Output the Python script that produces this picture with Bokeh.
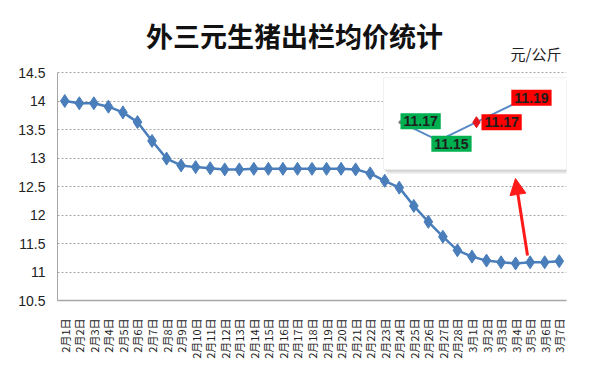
from bokeh.plotting import figure
from bokeh.models import (Range1d, FixedTicker, CustomJSTickFormatter, Label,
                          Arrow, NormalHead, ColumnDataSource)
from bokeh.embed import file_html
from bokeh.resources import INLINE

# ---------------- data ----------------
dates = ["2月1日", "2月2日", "2月3日", "2月4日", "2月5日", "2月6日", "2月7日",
         "2月8日", "2月9日", "2月10日", "2月11日", "2月12日", "2月13日", "2月14日",
         "2月15日", "2月16日", "2月17日", "2月18日", "2月19日", "2月20日", "2月21日",
         "2月22日", "2月23日", "2月24日", "2月25日", "2月26日", "2月27日", "2月28日",
         "3月1日", "3月2日", "3月3日", "3月4日", "3月5日", "3月6日", "3月7日"]
prices = [14.00, 13.96, 13.96, 13.90, 13.80, 13.63, 13.30, 12.99, 12.87, 12.84,
          12.82, 12.80, 12.80, 12.81, 12.81, 12.81, 12.81, 12.81, 12.81, 12.81,
          12.80, 12.73, 12.60, 12.48, 12.16, 11.88, 11.62, 11.38, 11.27, 11.20,
          11.17, 11.15, 11.17, 11.17, 11.19]
y_ticks = [10.5, 11, 11.5, 12, 12.5, 13, 13.5, 14, 14.5]

inset_values = [11.17, 11.15, 11.17, 11.19]
inset_colors = ["#00b050", "#00b050", "#ff0000", "#ff0000"]

title_text = "外三元生猪出栏均价统计"
unit_text = "元/公斤"

# ---------------- figure ----------------
W, H = 583, 379
FL, FR, FB = 57, 566, 300          # frame edges in pixels (frame reaches the top)
AXIS_TOP = 72                      # pixel row of the highest tick (14.5)
px_per_unit = (FB - AXIS_TOP) / (y_ticks[-1] - y_ticks[0])
y_top = y_ticks[-1] + AXIS_TOP / px_per_unit

p = figure(width=W, height=H, output_backend="svg", toolbar_location=None,
           title_location=None,
           x_range=Range1d(-0.5, len(dates) - 0.5),
           y_range=Range1d(y_ticks[0], y_top),
           min_border_left=FL, min_border_right=W - FR,
           min_border_top=0, min_border_bottom=H - FB)
p.outline_line_color = None
p.background_fill_color = "white"
p.border_fill_color = "white"

# axes
xs = list(range(len(dates)))
p.xaxis.ticker = FixedTicker(ticks=xs)
p.xaxis.major_label_overrides = {i: d for i, d in enumerate(dates)}
p.xaxis.major_label_orientation = 3.14159265 / 2
p.xaxis.major_label_text_font = "Noto Sans CJK SC"
p.xaxis.major_label_text_font_size = "11px"
p.xaxis.major_label_text_color = "#222222"
p.xaxis.major_label_standoff = 12
p.xaxis.major_tick_line_color = None
p.xaxis.minor_tick_line_color = None
p.xaxis.axis_line_color = "#a6a6a6"
p.xaxis.axis_line_width = 1.5

p.yaxis.ticker = FixedTicker(ticks=y_ticks)
p.yaxis.bounds = (y_ticks[0], y_ticks[-1])
p.yaxis.formatter = CustomJSTickFormatter(code="return String(tick);")
p.yaxis.major_label_text_font = "Liberation Sans"
p.yaxis.major_label_text_font_size = "14px"
p.yaxis.major_label_text_color = "#222222"
p.yaxis.major_label_standoff = 12
p.yaxis.major_tick_line_color = None
p.yaxis.major_tick_out = 0
p.yaxis.minor_tick_line_color = None
p.yaxis.axis_line_color = "#a6a6a6"

p.xgrid.grid_line_color = None
p.ygrid.grid_line_color = "#a6a6a6"
p.ygrid.grid_line_dash = "2 2"
p.ygrid.grid_line_width = 1

# main series
src = ColumnDataSource(dict(x=xs, y=prices))
blue = "#4a7ebb"
p.line("x", "y", source=src, line_color=blue, line_width=2.5)
p.scatter("x", "y", source=src, marker="diamond", size=13,
          fill_color=blue, line_color=blue)

# ---------------- inset (zoom of last days) ----------------
p.extra_x_ranges["ix"] = Range1d(-9.03, 4.37)
p.extra_y_ranges["iy"] = Range1d(10.9772, 11.3016)
bx0, bx1, by0, by1 = -0.45, 4.42, 11.119, 11.218
p.quad(left=bx0 + 0.10, right=bx1 + 0.10, bottom=by0 - 0.0045, top=by1 - 0.0045,
       x_range_name="ix", y_range_name="iy",
       fill_color="#e6e6e6", line_color=None)
p.quad(left=bx0 + 0.05, right=bx1 + 0.05, bottom=by0 - 0.0022, top=by1 - 0.0022,
       x_range_name="ix", y_range_name="iy",
       fill_color="#d2d2d2", line_color=None)
p.quad(left=bx0, right=bx1, bottom=by0, top=by1,
       x_range_name="ix", y_range_name="iy",
       fill_color="white", line_color="#f0f0f0")

ix = list(range(len(inset_values)))
isrc = ColumnDataSource(dict(x=ix, y=inset_values))
p.line("x", "y", source=isrc, x_range_name="ix", y_range_name="iy",
       line_color="#5a8ac6", line_width=2)
p.scatter(x=[ix[0]], y=[inset_values[0]], x_range_name="ix", y_range_name="iy",
          marker="circle", size=4, fill_color="#7f7f7f", line_color=None)
p.scatter(x=[ix[2]], y=[inset_values[2]], x_range_name="ix", y_range_name="iy",
          marker="diamond", size=11, fill_color="#e8141e", line_color="#e8141e")

label_style = [("center_left", 0, 1), ("center", 13, -3),
               ("center_left", 5, 0), ("center", 17, 6)]
for i, (v, c) in enumerate(zip(inset_values, inset_colors)):
    anchor, dx, dy = label_style[i]
    p.add_layout(Label(x=ix[i], y=v, text=f"{v:.2f}",
                       x_range_name="ix", y_range_name="iy",
                       anchor=anchor, x_offset=dx, y_offset=dy,
                       text_font="Liberation Sans", text_font_style="bold",
                       text_font_size="14px", text_color="#1e1e1e",
                       background_fill_color=c, padding=3))

# arrow from the low point up to the inset
p.add_layout(Arrow(x_start=31.82, y_start=11.29, x_end=30.99, y_end=12.64,
                   line_color="#ff1a1a", line_width=3,
                   end=NormalHead(size=16, fill_color="#ff1a1a",
                                  line_color="#ff1a1a")))

# ---------------- titles (screen units relative to the plot frame) ----------------
p.add_layout(Label(x=294 - FL, y=FB - 35, x_units="screen", y_units="screen",
                   text=title_text, text_align="center", text_baseline="middle",
                   text_font="Noto Sans CJK SC", text_font_style="bold",
                   text_font_size="27px", text_color="#111111"))
p.add_layout(Label(x=561 - FL, y=FB - 53, x_units="screen", y_units="screen",
                   text=unit_text, text_align="right", text_baseline="middle",
                   text_font="Noto Sans CJK SC", text_font_size="15px",
                   text_color="#222222"))

open("out.html", "w").write(file_html(p, INLINE))
